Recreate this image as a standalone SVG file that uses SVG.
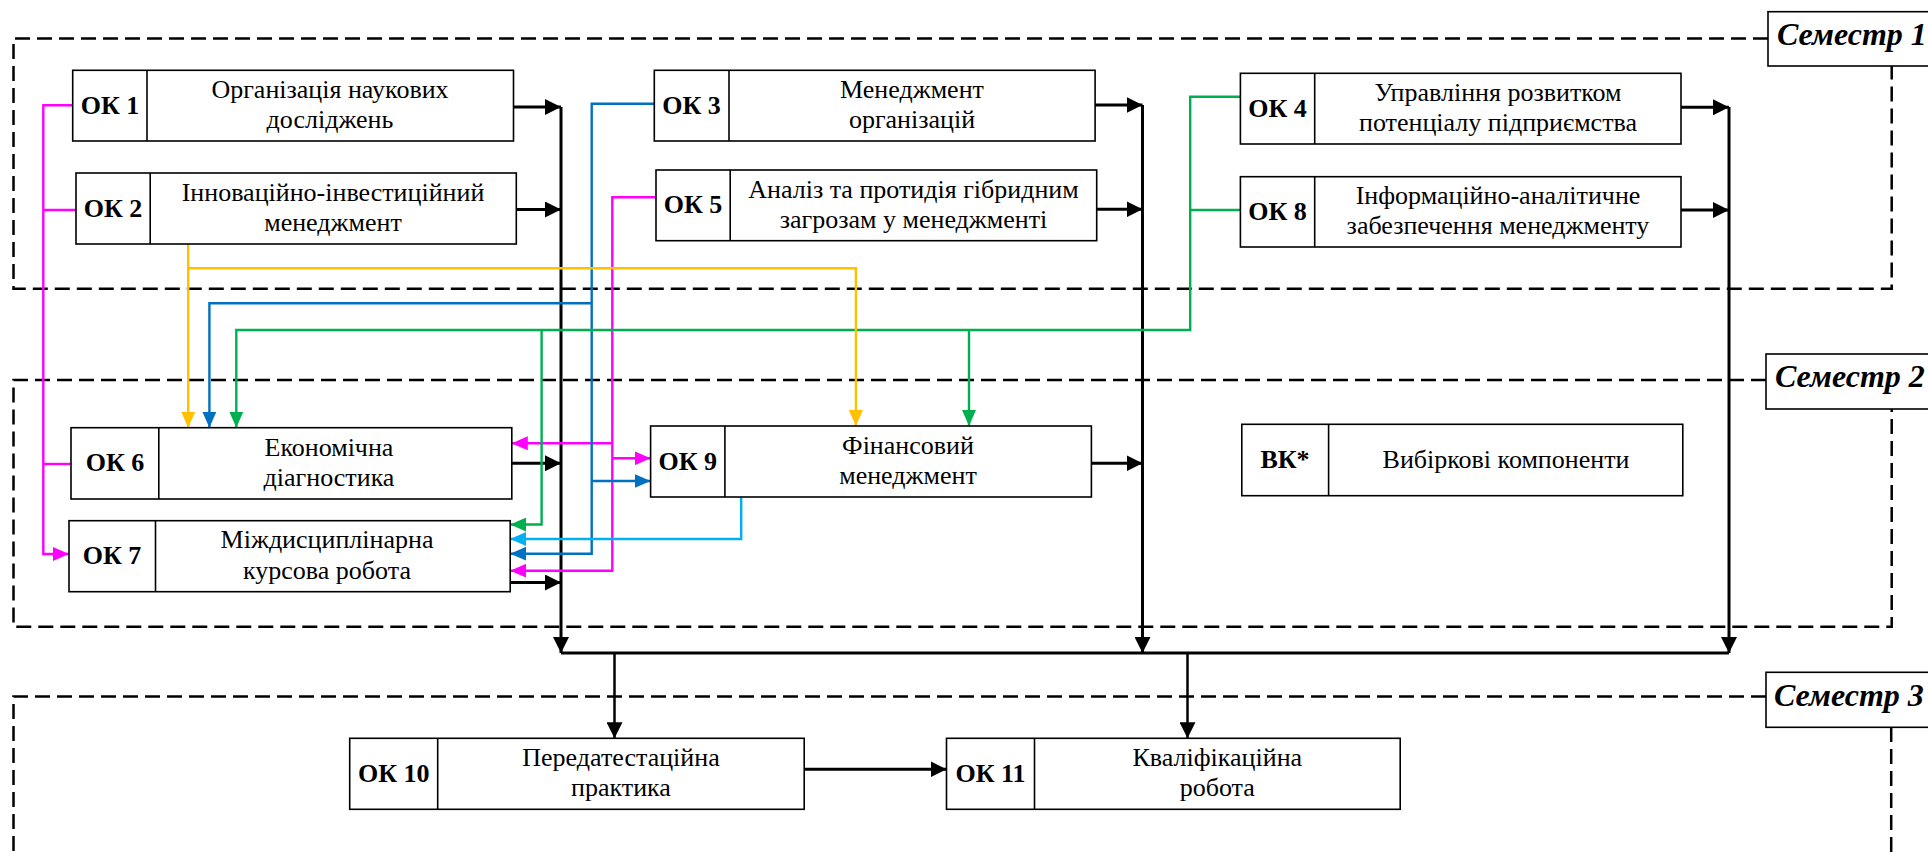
<svg xmlns="http://www.w3.org/2000/svg" width="1928" height="852" viewBox="0 0 1928 852">
<style>
.bx{fill:#fff;stroke:#000;stroke-width:1.6}
.dv{stroke:#000;stroke-width:1.6}
.code{font-family:"Liberation Serif","Times New Roman",serif;font-weight:bold;font-size:26px;text-anchor:middle;fill:#000}
.desc{font-family:"Liberation Serif","Times New Roman",serif;font-size:26px;text-anchor:middle;fill:#000}
.sem{font-family:"Liberation Serif","Times New Roman",serif;font-weight:bold;font-style:italic;font-size:32px;fill:#000}
.dash{fill:none;stroke:#000;stroke-width:2.5;stroke-dasharray:15 7}
.lbl{fill:#fff;stroke:#000;stroke-width:1.6}
.k{fill:none;stroke:#000;stroke-width:3}
.k2{fill:none;stroke:#000;stroke-width:2.5}
.m{fill:none;stroke:#FF00FF;stroke-width:2.4}
.b{fill:none;stroke:#0070C0;stroke-width:2.4}
.g{fill:none;stroke:#00B050;stroke-width:2.4}
.y{fill:none;stroke:#FFC000;stroke-width:2.4}
.c{fill:none;stroke:#00B0F0;stroke-width:2.4}
</style>
<defs>
<marker id="ak" markerUnits="userSpaceOnUse" viewBox="0 0 16 16" markerWidth="16" markerHeight="16" refX="16" refY="8" orient="auto"><path d="M0,0 L16,8 L0,16 z" fill="#000"/></marker>
<marker id="am" markerUnits="userSpaceOnUse" viewBox="0 0 16 14" markerWidth="16" markerHeight="14" refX="16" refY="7" orient="auto"><path d="M0,0 L16,7 L0,14 z" fill="#FF00FF"/></marker>
<marker id="ab" markerUnits="userSpaceOnUse" viewBox="0 0 16 14" markerWidth="16" markerHeight="14" refX="16" refY="7" orient="auto"><path d="M0,0 L16,7 L0,14 z" fill="#0070C0"/></marker>
<marker id="ag" markerUnits="userSpaceOnUse" viewBox="0 0 16 14" markerWidth="16" markerHeight="14" refX="16" refY="7" orient="auto"><path d="M0,0 L16,7 L0,14 z" fill="#00B050"/></marker>
<marker id="ay" markerUnits="userSpaceOnUse" viewBox="0 0 16 14" markerWidth="16" markerHeight="14" refX="16" refY="7" orient="auto"><path d="M0,0 L16,7 L0,14 z" fill="#FFC000"/></marker>
<marker id="ac" markerUnits="userSpaceOnUse" viewBox="0 0 16 14" markerWidth="16" markerHeight="14" refX="16" refY="7" orient="auto"><path d="M0,0 L16,7 L0,14 z" fill="#00B0F0"/></marker>
</defs>
<rect width="1928" height="852" fill="#fff"/>

<g id="semesters">
<path class="dash" d="M1768,38.5 H13.5 V288.7 H1891.7 V66"/>
<path class="dash" d="M1766,380 H13.5 V626.7 H1891.7 V409"/>
<path class="dash" d="M1766,696.5 H13.5 V860 M1891.2,727 V860"/>
<g id="sem1"><rect class="lbl" x="1768" y="11.7" width="170" height="54.3"/><text class="sem" x="1777" y="44.5">Семестр 1</text></g>
<g id="sem2"><rect class="lbl" x="1766" y="354" width="172" height="55"/><text class="sem" x="1775" y="387.3">Семестр 2</text></g>
<g id="sem3"><rect class="lbl" x="1766" y="672.3" width="172" height="55"/><text class="sem" x="1774" y="706">Семестр 3</text></g>
</g>

<g id="connectors">
<!-- black collectors -->
<path class="k" d="M561,107 V653" marker-end="url(#ak)"/>
<path class="k" d="M1142.5,105 V653" marker-end="url(#ak)"/>
<path class="k" d="M1729,107 V653" marker-end="url(#ak)"/>
<path class="k" d="M561,653 H1729"/>
<path class="k" d="M513.5,107 H561" marker-end="url(#ak)"/>
<path class="k" d="M516.3,209.5 H561" marker-end="url(#ak)"/>
<path class="k" d="M511.8,463.3 H561" marker-end="url(#ak)"/>
<path class="k" d="M510.2,582.5 H561" marker-end="url(#ak)"/>
<path class="k" d="M1095.1,105 H1142.5" marker-end="url(#ak)"/>
<path class="k" d="M1096.7,209.3 H1142.5" marker-end="url(#ak)"/>
<path class="k" d="M1091.4,463.3 H1142.5" marker-end="url(#ak)"/>
<path class="k" d="M1681,107.3 H1729" marker-end="url(#ak)"/>
<path class="k" d="M1681,210 H1729" marker-end="url(#ak)"/>
<path class="k2" d="M614.5,653 V738.3" marker-end="url(#ak)"/>
<path class="k2" d="M1187.5,653 V738.3" marker-end="url(#ak)"/>
<path class="k" d="M804.2,769.3 H946.5" marker-end="url(#ak)"/>

<!-- magenta -->
<path class="m" d="M72.7,105.3 H43.3 V554 H69" marker-end="url(#am)"/>
<path class="m" d="M76,210 H43.3"/>
<path class="m" d="M71,464 H43.3"/>
<path class="m" d="M656,197.3 H612.3 V570.7 H510.2" marker-end="url(#am)"/>
<path class="m" d="M612.3,443.3 H511.8" marker-end="url(#am)"/>
<path class="m" d="M612.3,458.3 H650.6" marker-end="url(#am)"/>

<!-- blue -->
<path class="b" d="M654.3,103.7 H591.7 V553.7 H510.2" marker-end="url(#ab)"/>
<path class="b" d="M591.7,303.3 H209.4 V427.7" marker-end="url(#ab)"/>
<path class="b" d="M591.7,481 H650.6" marker-end="url(#ab)"/>

<!-- green -->
<path class="g" d="M1240.4,96.7 H1190.2 V330 H236.3 V427.7" marker-end="url(#ag)"/>
<path class="g" d="M1240.4,210 H1190.2"/>
<path class="g" d="M969,330 V426" marker-end="url(#ag)"/>
<path class="g" d="M541.6,330 V524.5 H510.2" marker-end="url(#ag)"/>

<!-- yellow -->
<path class="y" d="M188.2,244 V427.7" marker-end="url(#ay)"/>
<path class="y" d="M188.2,268.3 H855.9 V426" marker-end="url(#ay)"/>

<!-- light blue -->
<path class="c" d="M741.2,497 V539 H510.2" marker-end="url(#ac)"/>
</g>

<g id="ok1"><rect class="bx" x="72.7" y="70.3" width="440.8" height="70.7"/><line class="dv" x1="147" y1="70.3" x2="147" y2="141"/>
<text class="code" x="110" y="113.5">ОК 1</text><text class="desc" x="330" y="97.5">Організація наукових</text><text class="desc" x="330" y="128">досліджень</text></g>

<g id="ok2"><rect class="bx" x="76" y="173" width="440.3" height="71"/><line class="dv" x1="150.2" y1="173" x2="150.2" y2="244"/>
<text class="code" x="113" y="216.5">ОК 2</text><text class="desc" x="333" y="200.5">Інноваційно-інвестиційний</text><text class="desc" x="333" y="231">менеджмент</text></g>

<g id="ok3"><rect class="bx" x="654.3" y="70.3" width="440.8" height="70.7"/><line class="dv" x1="729" y1="70.3" x2="729" y2="141"/>
<text class="code" x="691.6" y="113.5">ОК 3</text><text class="desc" x="912" y="97.5">Менеджмент</text><text class="desc" x="912" y="128">організацій</text></g>

<g id="ok5"><rect class="bx" x="656" y="170" width="440.7" height="70.7"/><line class="dv" x1="730.2" y1="170" x2="730.2" y2="240.7"/>
<text class="code" x="693" y="213.3">ОК 5</text><text class="desc" x="913.5" y="198">Аналіз та протидія гібридним</text><text class="desc" x="913.5" y="228.3">загрозам у менеджменті</text></g>

<g id="ok4"><rect class="bx" x="1240.4" y="73.3" width="440.6" height="70.7"/><line class="dv" x1="1314.7" y1="73.3" x2="1314.7" y2="144"/>
<text class="code" x="1277.5" y="116.6">ОК 4</text><text class="desc" x="1498" y="100.6">Управління розвитком</text><text class="desc" x="1498" y="131">потенціалу підприємства</text></g>

<g id="ok8"><rect class="bx" x="1240.4" y="176.7" width="440.6" height="70.3"/><line class="dv" x1="1314.7" y1="176.7" x2="1314.7" y2="247"/>
<text class="code" x="1277.5" y="219.8">ОК 8</text><text class="desc" x="1498" y="203.8">Інформаційно-аналітичне</text><text class="desc" x="1498" y="234.3">забезпечення менеджменту</text></g>

<g id="ok6"><rect class="bx" x="71" y="427.7" width="440.8" height="71.3"/><line class="dv" x1="158.8" y1="427.7" x2="158.8" y2="499"/>
<text class="code" x="115" y="471.3">ОК 6</text><text class="desc" x="329" y="455.5">Економічна</text><text class="desc" x="329" y="485.8">діагностика</text></g>

<g id="ok7"><rect class="bx" x="69" y="520.7" width="441.2" height="71"/><line class="dv" x1="155.5" y1="520.7" x2="155.5" y2="591.7"/>
<text class="code" x="112" y="564.2">ОК 7</text><text class="desc" x="327" y="548.3">Міждисциплінарна</text><text class="desc" x="327" y="578.7">курсова робота</text></g>

<g id="ok9"><rect class="bx" x="650.6" y="426" width="440.8" height="71"/><line class="dv" x1="724.9" y1="426" x2="724.9" y2="497"/>
<text class="code" x="687.7" y="469.5">ОК 9</text><text class="desc" x="908" y="453.5">Фінансовий</text><text class="desc" x="908" y="484">менеджмент</text></g>

<g id="vk"><rect class="bx" x="1241.8" y="424.3" width="441" height="71.4"/><line class="dv" x1="1328.6" y1="424.3" x2="1328.6" y2="495.7"/>
<text class="code" x="1285" y="467.5">ВК*</text><text class="desc" x="1506" y="467.5">Вибіркові компоненти</text></g>

<g id="ok10"><rect class="bx" x="349.7" y="738.3" width="454.5" height="71"/><line class="dv" x1="437.7" y1="738.3" x2="437.7" y2="809.3"/>
<text class="code" x="393.7" y="781.8">ОК 10</text><text class="desc" x="621" y="765.8">Передатестаційна</text><text class="desc" x="621" y="796.3">практика</text></g>

<g id="ok11"><rect class="bx" x="946.5" y="738.3" width="453.7" height="71"/><line class="dv" x1="1034.5" y1="738.3" x2="1034.5" y2="809.3"/>
<text class="code" x="990.5" y="781.8">ОК 11</text><text class="desc" x="1217.3" y="765.8">Кваліфікаційна</text><text class="desc" x="1217.3" y="796.3">робота</text></g>
</svg>
